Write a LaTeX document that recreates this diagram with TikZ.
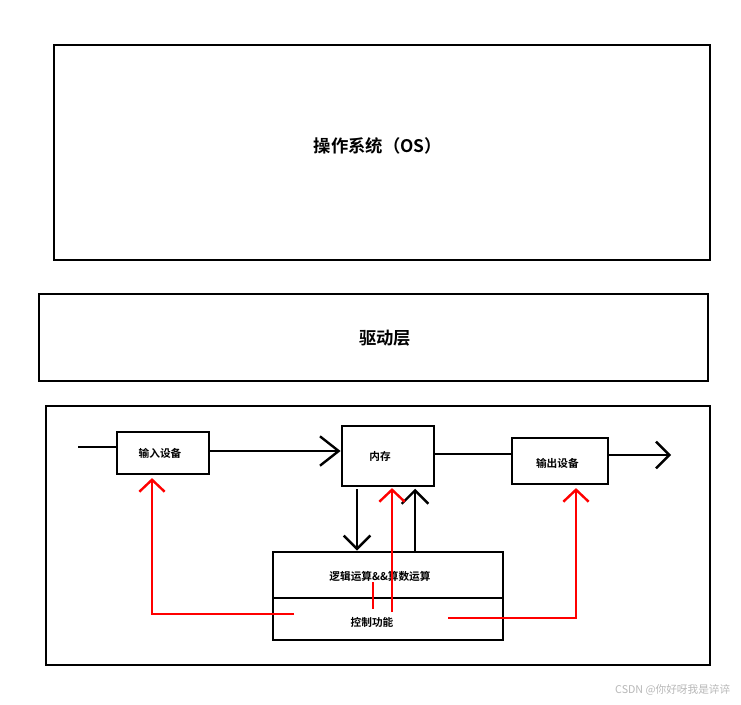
\documentclass[tikz,border=0pt]{standalone}
\usepackage{fontspec}
\setmainfont{Noto Sans CJK SC}
\newfontfamily\cjkb{Noto Sans CJK SC Bold}
\usetikzlibrary{arrows.meta}
\begin{document}
\begin{tikzpicture}[x=0.75pt,y=-0.75pt,
  bigbox/.style={draw=black,line width=1.6pt,rectangle,inner sep=0pt},
  smallbox/.style={draw=black,line width=2.1pt,rectangle,inner sep=0pt},
  bigtext/.style={font=\cjkb\fontsize{13}{15}\selectfont},
  smalltext/.style={font=\cjkb\fontsize{8}{10}\selectfont},
  blk/.style={line width=1.8pt,draw=black},
  blkarr/.style={blk,-{Straight Barb[length=10pt,width=20pt,line width=1.8pt]}},
  blkarrbig/.style={blk,-{Straight Barb[length=14pt,width=22pt,line width=1.8pt]}},
  redl/.style={line width=1.8pt,draw=red},
  redarr/.style={redl,-{Straight Barb[length=9pt,width=19pt,line width=1.8pt]}}
]
\useasboundingbox[fill=white] (0,0) rectangle (741,704);

% big boxes
\node[bigbox,minimum width=492pt,minimum height=161.25pt] (os) at (382,152.5) {};
\node[bigtext] (ostxt) at (378,146) {操作系统（OS）};
\node[bigbox,minimum width=501.75pt,minimum height=65.25pt] (drv) at (373.5,337.5) {};
\node[bigtext] (drvtxt) at (385,338) {驱动层};
\node[bigbox,minimum width=498pt,minimum height=194.25pt] (outer) at (378,535.5) {};

% inner boxes
\node[smallbox,minimum width=69pt,minimum height=31.5pt,
  label={[smalltext,xshift=-2.2pt]center:输入设备}] (in) at (163,453) {};
\node[smallbox,minimum width=69pt,minimum height=45pt,
  label={[smalltext,xshift=-6pt]center:内存}] (mem) at (388,456) {};
\node[smallbox,minimum width=72pt,minimum height=34.5pt,
  label={[smalltext,xshift=-2pt,yshift=-1.5pt]center:输出设备}] (out) at (560,461) {};
\node[smallbox,minimum width=172.5pt,minimum height=34.5pt,
  label={[smalltext,xshift=-6pt,yshift=-0.8pt]center:逻辑运算\&\&算数运算}] (alu) at (388,575) {};
\node[smallbox,minimum width=172.5pt,minimum height=31.5pt,
  label={[smalltext,xshift=-12pt,yshift=-2.2pt]center:控制功能}] (ctl) at (388,619) {};

% helper coordinates
\coordinate (inStart) at (78,447);
\coordinate (outEnd) at (671,455);
\coordinate (xd) at (357,0);
\coordinate (xu) at (415,0);
\coordinate (xr) at (392,0);
\coordinate (rs1) at (373,582);
\coordinate (rs2) at (373,609);
\coordinate (rl) at (294,614);
\coordinate (rlx) at (152,0);
\coordinate (rr) at (448,618);
\coordinate (rrx) at (576,0);

% black connectors
\draw[blk] (inStart) -- (in.west |- inStart);
\draw[blkarrbig] (in.east |- 0,451) -- (mem.west |- 0,451);
\draw[blk] (mem.east |- 0,454) -- (out.west |- 0,454);
\draw[blkarr] (out.east |- outEnd) -- (outEnd);
\draw[blkarr] ([yshift=-1.5pt]mem.south -| xd) -- (alu.north -| xd);
\draw[blkarr] (alu.north -| xu) -- ([yshift=-1pt]mem.south -| xu);

% red connectors
\draw[redarr] (rr -| xr) ++(0,-6) -- ([yshift=-0.5pt]mem.south -| xr);
\draw[redl] (rs1) -- (rs2);
\draw[redarr] (rl) -| ([yshift=-2pt]in.south -| rlx);
\draw[redarr] (rr) -| ([yshift=-2pt]out.south -| rrx);

% watermark
\node[font=\fontsize{8}{10}\selectfont,text=black!28,anchor=east] (wm) at (735,690) {CSDN @你好呀我是谇谇};
\end{tikzpicture}
\end{document}
